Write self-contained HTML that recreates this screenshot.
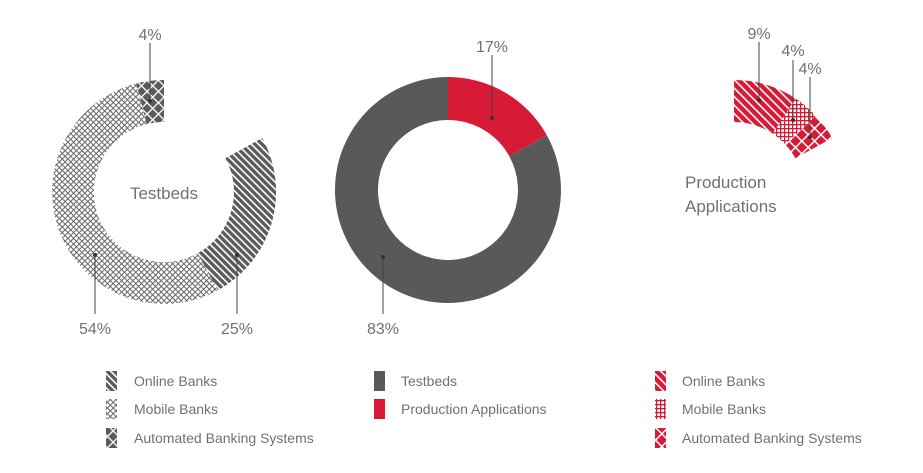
<!DOCTYPE html>
<html><head><style>
html,body{margin:0;padding:0;background:#fff;}
svg{display:block;font-family:"Liberation Sans",sans-serif;}
.t{fill:#707173;font-size:16px;}
.l{fill:#707173;font-size:14px;}
</style></head><body>
<svg width="923" height="473" viewBox="0 0 923 473">
<defs>
<pattern id="gOn" width="5" height="5" patternUnits="userSpaceOnUse" patternTransform="rotate(-45)">
<rect width="5" height="5" fill="#5a5b5d"/><rect width="1.6" height="5" fill="#fff"/></pattern>
<pattern id="gMo" width="4" height="4" patternUnits="userSpaceOnUse" patternTransform="rotate(45)">
<rect width="4" height="4" fill="#fff"/><rect width="1" height="4" fill="#666"/><rect width="4" height="1" fill="#666"/></pattern>
<pattern id="gAu" width="8" height="8" patternUnits="userSpaceOnUse" patternTransform="rotate(45)">
<rect width="8" height="8" fill="#5a5b5d"/><rect width="1.3" height="8" fill="#fff"/><rect width="8" height="1.3" fill="#fff"/></pattern>
<pattern id="rOn" width="6" height="6" patternUnits="userSpaceOnUse" patternTransform="rotate(-45)">
<rect width="6" height="6" fill="#d71a35"/><rect width="1.6" height="6" fill="#fff"/></pattern>
<pattern id="rMo" width="4" height="4" patternUnits="userSpaceOnUse">
<rect width="4" height="4" fill="#fff"/><rect width="1.3" height="4" fill="#d71a35"/><rect width="4" height="1.3" fill="#d71a35"/></pattern>
<pattern id="rAu" width="9" height="9" patternUnits="userSpaceOnUse" patternTransform="rotate(45)">
<rect width="9" height="9" fill="#d71a35"/><rect width="1.5" height="9" fill="#fff"/><rect width="9" height="1.5" fill="#fff"/></pattern>
</defs>

<path d="M164,80 A112,112 0 0 0 136.1,83.5 L146.6,124.2 A70,70 0 0 1 164,122 Z" fill="url(#gAu)"/>
<path d="M136.1,83.5 A112,112 0 1 0 217.9,290.2 L197.7,253.3 A70,70 0 1 1 146.6,124.2 Z" fill="url(#gMo)"/>
<path d="M217.9,290.2 A112,112 0 0 0 262.2,138.0 L225.4,158.3 A70,70 0 0 1 197.7,253.3 Z" fill="url(#gOn)"/>
<text x="164" y="199" text-anchor="middle" class="t" style="font-size:17px">Testbeds</text>

<path d="M448,77 A113,113 0 0 1 546.8,135.2 L509.2,156.1 A70,70 0 0 0 448,120 Z" fill="#d71a35"/>
<path d="M546.8,135.2 A113,113 0 1 1 448,77 L448,120 A70,70 0 1 0 509.2,156.1 Z" fill="#58595b"/>

<path d="M734,80 A112,112 0 0 1 795.7,98.5 L772.6,133.6 A70,70 0 0 0 734,122 Z" fill="url(#rOn)"/>
<path d="M795.7,98.5 A112,112 0 0 1 815.9,116.0 L785.2,144.3 A70,70 0 0 0 772.6,133.6 Z" fill="url(#rMo)"/>
<path d="M815.9,116.0 A112,112 0 0 1 832.2,138.0 L795.4,158.3 A70,70 0 0 0 785.2,144.3 Z" fill="url(#rAu)"/>
<text x="685" y="188" class="t" style="font-size:17px">Production</text>
<text x="685" y="212" class="t" style="font-size:17px">Applications</text>

<g stroke="#444" stroke-width="1">
<line x1="150" y1="43" x2="150" y2="101"/>
<line x1="95" y1="255" x2="95" y2="314"/>
<line x1="237" y1="255" x2="237" y2="314"/>
<line x1="492" y1="55" x2="492" y2="118"/>
<line x1="383" y1="257" x2="383" y2="314"/>
<line x1="759" y1="42" x2="759" y2="100"/>
<line x1="793" y1="60" x2="793" y2="120"/>
<line x1="810" y1="77" x2="810" y2="137"/>
</g>
<g fill="#333">
<circle cx="150" cy="101" r="2"/><circle cx="95" cy="255" r="2"/><circle cx="237" cy="255" r="2"/>
<circle cx="492" cy="118" r="2"/><circle cx="383" cy="257" r="2"/>
<circle cx="759" cy="100" r="2"/><circle cx="793" cy="120" r="2"/><circle cx="810" cy="137" r="2"/>
</g>
<g class="t" text-anchor="middle">
<text x="150" y="40">4%</text>
<text x="95" y="334">54%</text>
<text x="237" y="334">25%</text>
<text x="492" y="52">17%</text>
<text x="383" y="334">83%</text>
<text x="759" y="39">9%</text>
<text x="793" y="56">4%</text>
<text x="810" y="74">4%</text>
</g>

<rect x="106" y="371" width="11" height="20" fill="url(#gOn)"/>
<rect x="106" y="399" width="11" height="20" fill="url(#gMo)"/>
<rect x="106" y="428" width="11" height="20" fill="url(#gAu)"/>
<text x="134" y="386" class="l">Online Banks</text>
<text x="134" y="414" class="l">Mobile Banks</text>
<text x="134" y="443" class="l">Automated Banking Systems</text>

<rect x="374" y="371" width="11" height="20" fill="#58595b"/>
<rect x="374" y="399" width="11" height="20" fill="#d71a35"/>
<text x="401" y="386" class="l">Testbeds</text>
<text x="401" y="414" class="l">Production Applications</text>

<rect x="655" y="371" width="11" height="20" fill="url(#rOn)"/>
<rect x="655" y="399" width="11" height="20" fill="url(#rMo)"/>
<rect x="655" y="428" width="11" height="20" fill="url(#rAu)"/>
<text x="682" y="386" class="l">Online Banks</text>
<text x="682" y="414" class="l">Mobile Banks</text>
<text x="682" y="443" class="l">Automated Banking Systems</text>
</svg>
</body></html>
